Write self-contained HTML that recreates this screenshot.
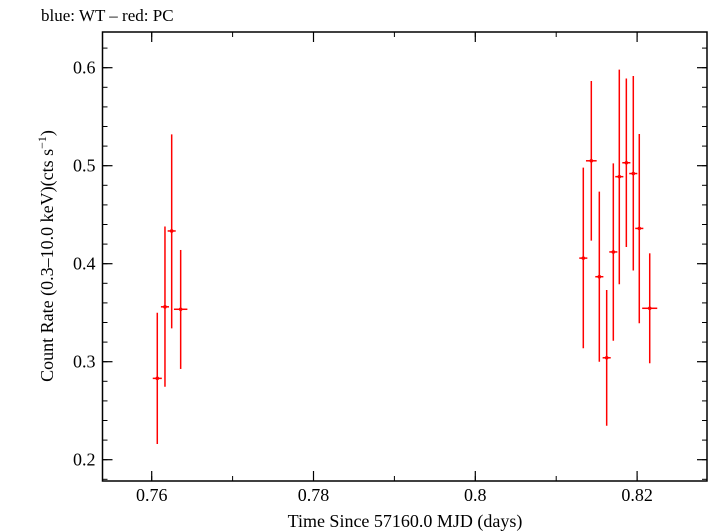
<!DOCTYPE html>
<html><head><meta charset="utf-8"><style>
body{margin:0;background:#fff;}
svg{display:block;font-family:"Liberation Serif",serif;}
</style></head><body>
<svg id="chart" width="709" height="532" viewBox="0 0 709 532">
<text x="41" y="21" font-size="17">blue: WT – red: PC</text>
<rect x="102.5" y="32" width="604.5" height="449" fill="none" stroke="#000" stroke-width="1.5"/>
<g id="axes"></g>
<g id="points"></g>
<text x="405" y="527" font-size="18" text-anchor="middle">Time Since 57160.0 MJD (days)</text>
<text transform="translate(53,256) rotate(-90)" font-size="18" text-anchor="middle">Count Rate (0.3–10.0 keV)(cts s<tspan dy="-7" font-size="12">−1</tspan><tspan dy="7">)</tspan></text>
</svg>
<script>
const times=[0.76069,0.76164,0.76247,0.76358,0.81335,0.81434,0.81533,0.81624,0.81706,0.8178,0.81867,0.81953,0.82027,0.82156];
const rates=[0.283,0.356,0.4334,0.3535,0.4057,0.505,0.3867,0.304,0.412,0.4888,0.503,0.492,0.436,0.3545];
const errHi=[0.350,0.438,0.532,0.414,0.498,0.5864,0.4735,0.3732,0.5024,0.598,0.589,0.5915,0.5323,0.4106];
const errLo=[0.216,0.2745,0.334,0.2926,0.3137,0.4235,0.300,0.2347,0.3214,0.379,0.417,0.393,0.3392,0.2984];
const timeErr=[0.00056,0.0005,0.0005,0.00083,0.0005,0.00066,0.0005,0.0005,0.0005,0.0005,0.0005,0.0005,0.0005,0.00093];
const xTicks=[0.76,0.78,0.80,0.82];
const xTickLabels=["0.76","0.78","0.8","0.82"];
const yTicks=[0.2,0.3,0.4,0.5,0.6];
const yTickLabels=["0.2","0.3","0.4","0.5","0.6"];
const X=v=>151.7+(v-0.76)*8090;
const Y=v=>67.7+(0.6-v)*980;
const NS="http://www.w3.org/2000/svg";
function mk(tag,attrs,parent){const e=document.createElementNS(NS,tag);for(const k in attrs)e.setAttribute(k,attrs[k]);parent.appendChild(e);return e;}
const ax=document.getElementById('axes');
const L=102.5,R=707,T=32,B=481;
for(let i=0;i<xTicks.length;i++){
 const x=X(xTicks[i]);
 const t=mk('line',{x1:x,x2:x,y1:B,y2:B-10,stroke:'#000','stroke-width':1.2},ax);
 
 
 const t2=mk('line',{x1:x,x2:x,y1:T,y2:T+10,stroke:'#000','stroke-width':1.2},ax);
 
 
 const lb=mk('text',{x:x,y:B+20,'font-size':18,'text-anchor':'middle'},ax);
 lb.textContent=xTickLabels[i];
 
 
}
for(let k=0;k<10;k++){const v=0.75+k*0.01;const x=X(v);if(x<L||x>R)continue;
 const m=mk('line',{x1:x,x2:x,y1:B,y2:B-5,stroke:'#000','stroke-width':1},ax);
 
 
 const m2=mk('line',{x1:x,x2:x,y1:T,y2:T+5,stroke:'#000','stroke-width':1},ax);
 
 }
for(let i=0;i<yTicks.length;i++){
 const y=Y(yTicks[i]);
 const t=mk('line',{x1:L,x2:L+10,y1:y,y2:y,stroke:'#000','stroke-width':1.2},ax);
 
 
 const t2=mk('line',{x1:R,x2:R-10,y1:y,y2:y,stroke:'#000','stroke-width':1.2},ax);
 
 
 const lb=mk('text',{x:L-7,y:y+6,'font-size':18,'text-anchor':'end'},ax);
 lb.textContent=yTickLabels[i];
 
 
}
for(let k=0;k<30;k++){const v=0.18+k*0.02;const y=Y(v);if(y<T||y>B)continue;
 const m=mk('line',{x1:L,x2:L+5,y1:y,y2:y,stroke:'#000','stroke-width':1},ax);
 
 
 const m2=mk('line',{x1:R,x2:R-5,y1:y,y2:y,stroke:'#000','stroke-width':1},ax);
 
 }
const pg=document.getElementById('points');
for(let i=0;i<times.length;i++){
 const g=mk('g',{stroke:'#f00','stroke-width':1.5},pg);
 
 
 const x=X(times[i]),y=Y(rates[i]);
 mk('line',{x1:x,x2:x,y1:Y(errHi[i]),y2:Y(errLo[i])},g);
 mk('line',{x1:X(times[i]-timeErr[i]),x2:X(times[i]+timeErr[i]),y1:y,y2:y},g);
 mk('circle',{cx:x,cy:y,r:1.8,fill:'#f00',stroke:'none'},g);
}
</script>
</body></html>
